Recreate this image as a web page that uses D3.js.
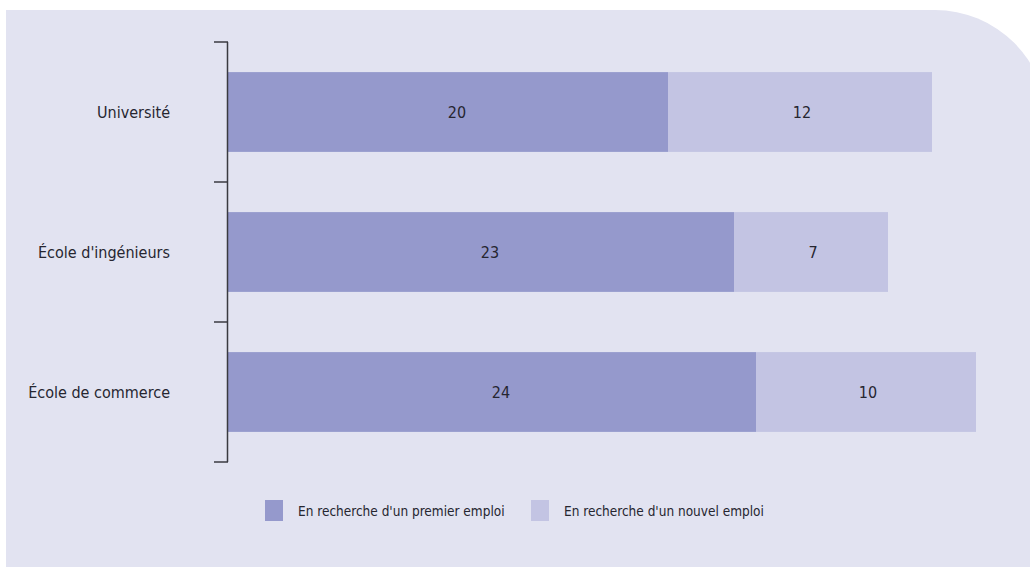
<!DOCTYPE html>
<html>
<head>
<meta charset="utf-8">
<script src="https://cdn.jsdelivr.net/npm/d3@7"></script>
<style>
  body { margin: 0; background: #fff; }
  text { font-family: "Liberation Sans Narrow", "DejaVu Sans Condensed", sans-serif; fill: #262630; }
</style>
</head>
<body>
<svg width="1030" height="567"></svg>
<script>
// data
let categories = ['Université', "École d'ingénieurs", 'École de commerce'];
let premier = [20, 23, 24];
let nouvel = [12, 7, 10];
let seriesNames = ["En recherche d'un premier emploi", "En recherche d'un nouvel emploi"];
let colors = ['#9599cc', '#c3c4e3'];

let svg = d3.select('svg');

// background panel with rounded top-right corner
svg.append('path')
    .attr('d', 'M6,10 H935 A112,112 0 0 1 1047,122 V567 H6 Z')
    .attr('fill', '#e2e3f1');

let xScale = d3.scaleLinear().domain([0, 36]).range([228, 1020]);
let yScale = d3.scaleBand().domain(categories).range([42, 462]);

let barH = yScale.bandwidth() * 0.57;
let barOff = (yScale.bandwidth() - barH) / 2;

let chartG = svg.append('g');

// stacked bars
categories.forEach(function(c, i) {
    let y = yScale(c) + barOff;
    chartG.append('rect')
        .attr('x', xScale(0))
        .attr('y', y)
        .attr('width', xScale(premier[i]) - xScale(0))
        .attr('height', barH)
        .attr('fill', colors[0]);
    chartG.append('rect')
        .attr('x', xScale(premier[i]))
        .attr('y', y)
        .attr('width', xScale(premier[i] + nouvel[i]) - xScale(premier[i]))
        .attr('height', barH)
        .attr('fill', colors[1]);

    chartG.append('text')
        .attr('x', (xScale(0) + xScale(premier[i])) / 2 + 9)
        .attr('y', yScale(c) + yScale.bandwidth() / 2)
        .attr('dy', '0.35em')
        .attr('text-anchor', 'middle')
        .style('font-size', '16px')
        .text(premier[i]);
    chartG.append('text')
        .attr('x', (xScale(premier[i]) + xScale(premier[i] + nouvel[i])) / 2 + 2)
        .attr('y', yScale(c) + yScale.bandwidth() / 2)
        .attr('dy', '0.35em')
        .attr('text-anchor', 'middle')
        .style('font-size', '16px')
        .text(nouvel[i]);

    // category labels
    chartG.append('text')
        .attr('x', 170)
        .attr('y', yScale(c) + yScale.bandwidth() / 2)
        .attr('dy', '0.35em')
        .attr('text-anchor', 'end')
        .style('font-size', '16px')
        .text(c);
});

// axis with ticks at band boundaries
let edges = categories.map(c => yScale(c)).concat([yScale.range()[1]]);
let axisG = svg.append('g')
    .attr('stroke', '#3a3a40')
    .attr('stroke-width', 1.5);
axisG.append('line')
    .attr('x1', 227.5).attr('x2', 227.5)
    .attr('y1', edges[0]).attr('y2', edges[edges.length - 1]);
edges.forEach(function(e) {
    axisG.append('line')
        .attr('x1', 214).attr('x2', 228)
        .attr('y1', e).attr('y2', e);
});

// legend
let legendX = [265, 531];
seriesNames.forEach(function(n, i) {
    let g = svg.append('g').attr('transform', 'translate(' + [legendX[i], 500] + ')');
    g.append('rect')
        .attr('width', 18).attr('height', 21)
        .attr('fill', colors[i]);
    g.append('text')
        .attr('x', 33).attr('y', 11)
        .attr('dy', '0.35em')
        .style('font-size', '13.5px')
        .text(n);
});
</script>
</body>
</html>
